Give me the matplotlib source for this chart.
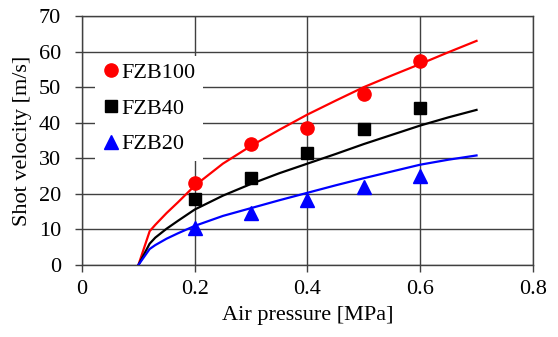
import matplotlib
matplotlib.use("Agg")
import matplotlib.pyplot as plt

plt.rcParams['font.family'] = ['Liberation Serif', 'DejaVu Serif']

# measured points
p_meas = [0.2, 0.3, 0.4, 0.5, 0.6]
v_fzb100 = [23.0, 34.0, 38.5, 48.0, 57.3]
v_fzb40 = [18.5, 24.5, 31.5, 38.3, 44.0]
v_fzb20 = [10.5, 14.5, 18.3, 22.0, 25.0]

# calculated curves
p_calc = [0.1, 0.12, 0.13, 0.15, 0.17, 0.2, 0.25, 0.3, 0.35, 0.4, 0.45, 0.5, 0.55, 0.6, 0.65, 0.7]
c_fzb100 = [0.0, 9.5, 11.3, 14.6, 17.6, 22.3, 28.5, 33.5, 38.0, 42.3, 46.2, 50.0, 53.3, 56.5, 59.8, 63.0]
c_fzb40 = [0.0, 6.0, 7.7, 10.2, 12.4, 15.6, 19.5, 22.8, 25.8, 28.5, 31.2, 34.0, 36.6, 39.2, 41.5, 43.6]
c_fzb20 = [0.0, 4.5, 5.6, 7.4, 8.9, 11.0, 13.8, 16.0, 18.2, 20.3, 22.4, 24.4, 26.3, 28.2, 29.6, 30.8]

fig = plt.figure(figsize=(5.58, 3.37), dpi=100)
ax = fig.add_axes([0.147, 0.2136, 0.808, 0.739])

ax.plot(p_calc, c_fzb100, color="red", lw=1.6, zorder=3)
ax.plot(p_calc, c_fzb40, color="black", lw=1.6, zorder=3)
ax.plot(p_calc, c_fzb20, color="blue", lw=1.6, zorder=3)

ax.plot(p_meas, v_fzb100, "o", color="red", ms=9.5, ls="none", label="FZB100", zorder=4)
ax.plot(p_meas, v_fzb40, "s", color="black", ms=9, ls="none", label="FZB40", zorder=4)
ax.plot(p_meas, v_fzb20, "^", color="blue", ms=10, ls="none", label="FZB20", zorder=4)

ax.set_xlim(0, 0.8)
ax.set_ylim(0, 70)
ax.set_xticks([0, 0.2, 0.4, 0.6, 0.8])
ax.set_xticklabels(["0", "0.2", "0.4", "0.6", "0.8"])
ax.set_yticks(range(0, 71, 10))
ax.grid(True, color="#404040", lw=1.0, zorder=0)
ax.set_axisbelow(True)
for s in ax.spines.values():
    s.set_color("#404040")
    s.set_linewidth(1.0)
ax.tick_params(direction="out", length=5, width=1.0, color="#404040",
               labelsize=16)
ax.tick_params(axis="y", pad=10)
ax.tick_params(axis="x", pad=6)

ax.set_xlabel("Air pressure [MPa]", fontsize=16, labelpad=5)
ax.set_ylabel("Shot velocity [m/s]", fontsize=16, labelpad=5)

leg = ax.legend(loc="upper left", bbox_to_anchor=(0.029, 0.84), fontsize=16,
                frameon=True, fancybox=False, handlelength=0.8,
                handletextpad=0.1, labelspacing=0.68, borderpad=0.3,
                borderaxespad=0)
leg.get_frame().set_edgecolor("none")
leg.get_frame().set_facecolor("white")
leg.get_frame().set_alpha(1.0)

fig.savefig("out.png", dpi=100)
